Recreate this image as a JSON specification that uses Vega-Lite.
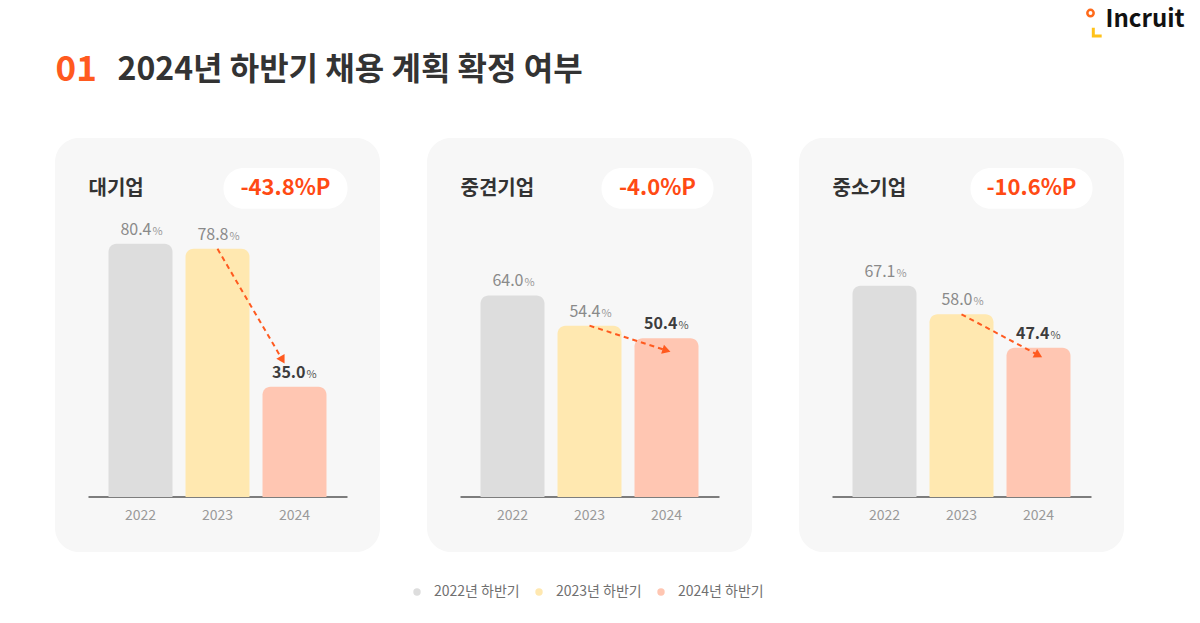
{
  "$schema": "https://vega.github.io/schema/vega-lite/v6.json",
  "autosize": {"type": "none"},
  "padding": {"left": 55, "top": 138, "right": 1145, "bottom": 485},
  "bounds": "flush",
  "spacing": 47,
  "background": "white",
  "config": {
    "font": "Noto Sans CJK KR",
    "view": {"fill": "#f7f7f7", "stroke": null, "cornerRadius": 24},
    "axisX": {"domain": false, "ticks": false, "grid": false, "labelFontSize": 14, "labelColor": "#9a9a9a", "labelPadding": 12, "offset": -56, "labelAngle": 0}
  },
  "resolve": {"scale": {"color": "independent"}, "legend": {"color": "independent"}},
  "datasets": {
    "bars": [
      {"group": "대기업", "year": "2022", "series": "2022년 하반기", "value": 80.4},
      {"group": "대기업", "year": "2023", "series": "2023년 하반기", "value": 78.8},
      {"group": "대기업", "year": "2024", "series": "2024년 하반기", "value": 35.0},
      {"group": "중견기업", "year": "2022", "series": "2022년 하반기", "value": 64.0},
      {"group": "중견기업", "year": "2023", "series": "2023년 하반기", "value": 54.4},
      {"group": "중견기업", "year": "2024", "series": "2024년 하반기", "value": 50.4},
      {"group": "중소기업", "year": "2022", "series": "2022년 하반기", "value": 67.1},
      {"group": "중소기업", "year": "2023", "series": "2023년 하반기", "value": 58.0},
      {"group": "중소기업", "year": "2024", "series": "2024년 하반기", "value": 47.4}
    ],
    "cards": [
      {"group": "대기업", "change": "-43.8%P", "from": "2023", "to": "2024", "start": 78.8, "end": 43.5},
      {"group": "중견기업", "change": "-4.0%P", "from": "2023", "to": "2024", "start": 54.4, "end": 46.5},
      {"group": "중소기업", "change": "-10.6%P", "from": "2023", "to": "2024", "start": 58.0, "end": 45.0}
    ],
    "header": [
      {"num": "01", "title": "2024년 하반기 채용 계획 확정 여부", "logo": "Incruit"}
    ]
  },
  "hconcat": [
    {
      "width": 325, "height": 414,
      "layer": [
        {"data": {"values": [{"base": 0}]},
         "mark": {"type": "rule", "color": "#555555", "strokeWidth": 1.5, "xOffset": -52, "x2Offset": 53},
         "encoding": {"x": {"datum": "2022"}, "x2": {"datum": "2024"}, "y": {"field": "base", "type": "quantitative", "axis": null}}},
        {"data": {"name": "bars"}, "transform": [{"filter": "datum.group === '대기업'"}],
         "mark": {"type": "bar", "cornerRadiusTopLeft": 8, "cornerRadiusTopRight": 8},
         "encoding": {
           "x": {"field": "year", "type": "nominal", "scale": {"domain": ["2022", "2023", "2024"], "paddingInner": 0.169, "paddingOuter": 0.695}, "axis": {"title": null}},
           "y": {"field": "value", "type": "quantitative", "scale": {"domain": [-17.5, 114], "nice": false, "zero": false}, "axis": null},
           "y2": {"datum": 0},
           "color": {"field": "series", "type": "nominal",
             "scale": {"domain": ["2022년 하반기", "2023년 하반기", "2024년 하반기"], "range": ["#dddddd", "#ffe8b0", "#ffc6b2"]},
             "legend": {"title": null, "orient": "none", "legendX": 355, "legendY": 447, "direction": "horizontal", "symbolType": "circle", "symbolSize": 55, "labelFontSize": 14, "labelColor": "#707070", "columnPadding": 12, "labelOffset": 10, "padding": 0, "symbolStrokeWidth": 0}}
         }},
        {"data": {"name": "bars"}, "transform": [{"filter": "datum.group === '대기업' && datum.year !== '2024'"}],
         "mark": {"type": "text", "align": "right", "baseline": "alphabetic", "dx": 11, "dy": -9, "fontSize": 16, "color": "#8a8a8a"},
         "encoding": {"x": {"field": "year", "type": "nominal"}, "y": {"field": "value", "type": "quantitative", "axis": null}, "text": {"field": "value", "format": ".1f"}}},
        {"data": {"name": "bars"}, "transform": [{"filter": "datum.group === '대기업' && datum.year === '2024'"}],
         "mark": {"type": "text", "align": "right", "baseline": "alphabetic", "dx": 11, "dy": -9, "fontSize": 16, "fontWeight": "bold", "color": "#3d3d3d"},
         "encoding": {"x": {"field": "year", "type": "nominal"}, "y": {"field": "value", "type": "quantitative", "axis": null}, "text": {"field": "value", "format": ".1f"}}},
        {"data": {"name": "bars"}, "transform": [{"filter": "datum.group === '대기업'"}],
         "mark": {"type": "text", "align": "left", "baseline": "alphabetic", "dx": 12, "dy": -9, "fontSize": 11, "text": "%"},
         "encoding": {"x": {"field": "year", "type": "nominal"}, "y": {"field": "value", "type": "quantitative", "axis": null},
           "color": {"condition": {"test": "datum.year === '2024'", "value": "#555555"}, "value": "#999999"}}},
        {"data": {"name": "cards"}, "transform": [{"filter": "datum.group === '대기업'"}],
         "mark": {"type": "rule", "color": "#ff5a1f", "strokeWidth": 2, "strokeDash": [5, 4], "x2Offset": -12},
         "encoding": {"x": {"field": "from", "type": "nominal"}, "x2": {"field": "to"}, "y": {"field": "start", "type": "quantitative", "axis": null}, "y2": {"field": "end"}}},
        {"data": {"name": "cards"}, "transform": [{"filter": "datum.group === '대기업'"}],
         "mark": {"type": "point", "shape": "triangle-up", "filled": true, "color": "#ff5a1f", "size": 90, "angle": 150, "opacity": 1, "xOffset": -12},
         "encoding": {"x": {"field": "to", "type": "nominal"}, "y": {"field": "end", "type": "quantitative", "axis": null}}},
        {"data": {"name": "cards"}, "transform": [{"filter": "datum.group === '대기업'"}],
         "mark": {"type": "bar", "width": 124, "xOffset": -9, "cornerRadius": 20, "color": "#ffffff"},
         "encoding": {"x": {"datum": "2024"}, "y": {"datum": 91.5, "axis": null}, "y2": {"datum": 104.5}}},
        {"data": {"name": "cards"}, "transform": [{"filter": "datum.group === '대기업'"}],
         "mark": {"type": "text", "align": "center", "baseline": "middle", "fontSize": 22, "fontWeight": "bold", "color": "#ff4a14", "xOffset": -9},
         "encoding": {"x": {"datum": "2024"}, "y": {"datum": 98, "axis": null}, "text": {"field": "change"}}},
        {"data": {"name": "cards"}, "transform": [{"filter": "datum.group === '대기업'"}],
         "mark": {"type": "text", "align": "left", "baseline": "middle", "fontSize": 20, "fontWeight": "bold", "color": "#333333", "xOffset": -52},
         "encoding": {"x": {"datum": "2022"}, "y": {"datum": 97.8, "axis": null}, "text": {"field": "group"}}},
        {"data": {"name": "header"},
         "mark": {"type": "text", "align": "left", "baseline": "middle", "fontSize": 35, "fontWeight": "bold", "color": "#ff5a1f", "xOffset": -85},
         "encoding": {"x": {"datum": "2022"}, "y": {"datum": 135.6, "axis": null}, "text": {"field": "num"}}},
        {"data": {"name": "header"},
         "mark": {"type": "text", "align": "left", "baseline": "middle", "fontSize": 32, "fontWeight": "bold", "color": "#333333", "xOffset": -23},
         "encoding": {"x": {"datum": "2022"}, "y": {"datum": 135.6, "axis": null}, "text": {"field": "title"}}}
      ]
    },
    {
      "width": 325, "height": 414,
      "layer": [
        {"data": {"values": [{"base": 0}]},
         "mark": {"type": "rule", "color": "#555555", "strokeWidth": 1.5, "xOffset": -52, "x2Offset": 53},
         "encoding": {"x": {"datum": "2022"}, "x2": {"datum": "2024"}, "y": {"field": "base", "type": "quantitative", "axis": null}}},
        {"data": {"name": "bars"}, "transform": [{"filter": "datum.group === '중견기업'"}],
         "mark": {"type": "bar", "cornerRadiusTopLeft": 8, "cornerRadiusTopRight": 8},
         "encoding": {
           "x": {"field": "year", "type": "nominal", "scale": {"domain": ["2022", "2023", "2024"], "paddingInner": 0.169, "paddingOuter": 0.695}, "axis": {"title": null}},
           "y": {"field": "value", "type": "quantitative", "scale": {"domain": [-17.5, 114], "nice": false, "zero": false}, "axis": null},
           "y2": {"datum": 0},
           "color": {"field": "series", "type": "nominal",
             "scale": {"domain": ["2022년 하반기", "2023년 하반기", "2024년 하반기"], "range": ["#dddddd", "#ffe8b0", "#ffc6b2"]},
             "legend": null}
         }},
        {"data": {"name": "bars"}, "transform": [{"filter": "datum.group === '중견기업' && datum.year !== '2024'"}],
         "mark": {"type": "text", "align": "right", "baseline": "alphabetic", "dx": 11, "dy": -9, "fontSize": 16, "color": "#8a8a8a"},
         "encoding": {"x": {"field": "year", "type": "nominal"}, "y": {"field": "value", "type": "quantitative", "axis": null}, "text": {"field": "value", "format": ".1f"}}},
        {"data": {"name": "bars"}, "transform": [{"filter": "datum.group === '중견기업' && datum.year === '2024'"}],
         "mark": {"type": "text", "align": "right", "baseline": "alphabetic", "dx": 11, "dy": -9, "fontSize": 16, "fontWeight": "bold", "color": "#3d3d3d"},
         "encoding": {"x": {"field": "year", "type": "nominal"}, "y": {"field": "value", "type": "quantitative", "axis": null}, "text": {"field": "value", "format": ".1f"}}},
        {"data": {"name": "bars"}, "transform": [{"filter": "datum.group === '중견기업'"}],
         "mark": {"type": "text", "align": "left", "baseline": "alphabetic", "dx": 12, "dy": -9, "fontSize": 11, "text": "%"},
         "encoding": {"x": {"field": "year", "type": "nominal"}, "y": {"field": "value", "type": "quantitative", "axis": null},
           "color": {"condition": {"test": "datum.year === '2024'", "value": "#555555"}, "value": "#999999"}}},
        {"data": {"name": "cards"}, "transform": [{"filter": "datum.group === '중견기업'"}],
         "mark": {"type": "rule", "color": "#ff5a1f", "strokeWidth": 2, "strokeDash": [5, 4]},
         "encoding": {"x": {"field": "from", "type": "nominal"}, "x2": {"field": "to"}, "y": {"field": "start", "type": "quantitative", "axis": null}, "y2": {"field": "end"}}},
        {"data": {"name": "cards"}, "transform": [{"filter": "datum.group === '중견기업'"}],
         "mark": {"type": "point", "shape": "triangle-up", "filled": true, "color": "#ff5a1f", "size": 90, "angle": 107, "opacity": 1},
         "encoding": {"x": {"field": "to", "type": "nominal"}, "y": {"field": "end", "type": "quantitative", "axis": null}}},
        {"data": {"name": "cards"}, "transform": [{"filter": "datum.group === '중견기업'"}],
         "mark": {"type": "bar", "width": 112, "xOffset": -9, "cornerRadius": 20, "color": "#ffffff"},
         "encoding": {"x": {"datum": "2024"}, "y": {"datum": 91.5, "axis": null}, "y2": {"datum": 104.5}}},
        {"data": {"name": "cards"}, "transform": [{"filter": "datum.group === '중견기업'"}],
         "mark": {"type": "text", "align": "center", "baseline": "middle", "fontSize": 22, "fontWeight": "bold", "color": "#ff4a14", "xOffset": -9},
         "encoding": {"x": {"datum": "2024"}, "y": {"datum": 98, "axis": null}, "text": {"field": "change"}}},
        {"data": {"name": "cards"}, "transform": [{"filter": "datum.group === '중견기업'"}],
         "mark": {"type": "text", "align": "left", "baseline": "middle", "fontSize": 20, "fontWeight": "bold", "color": "#333333", "xOffset": -52},
         "encoding": {"x": {"datum": "2022"}, "y": {"datum": 97.8, "axis": null}, "text": {"field": "group"}}}
      ]
    },
    {
      "width": 325, "height": 414,
      "layer": [
        {"data": {"values": [{"base": 0}]},
         "mark": {"type": "rule", "color": "#555555", "strokeWidth": 1.5, "xOffset": -52, "x2Offset": 53},
         "encoding": {"x": {"datum": "2022"}, "x2": {"datum": "2024"}, "y": {"field": "base", "type": "quantitative", "axis": null}}},
        {"data": {"name": "bars"}, "transform": [{"filter": "datum.group === '중소기업'"}],
         "mark": {"type": "bar", "cornerRadiusTopLeft": 8, "cornerRadiusTopRight": 8},
         "encoding": {
           "x": {"field": "year", "type": "nominal", "scale": {"domain": ["2022", "2023", "2024"], "paddingInner": 0.169, "paddingOuter": 0.695}, "axis": {"title": null}},
           "y": {"field": "value", "type": "quantitative", "scale": {"domain": [-17.5, 114], "nice": false, "zero": false}, "axis": null},
           "y2": {"datum": 0},
           "color": {"field": "series", "type": "nominal",
             "scale": {"domain": ["2022년 하반기", "2023년 하반기", "2024년 하반기"], "range": ["#dddddd", "#ffe8b0", "#ffc6b2"]},
             "legend": null}
         }},
        {"data": {"name": "bars"}, "transform": [{"filter": "datum.group === '중소기업' && datum.year !== '2024'"}],
         "mark": {"type": "text", "align": "right", "baseline": "alphabetic", "dx": 11, "dy": -9, "fontSize": 16, "color": "#8a8a8a"},
         "encoding": {"x": {"field": "year", "type": "nominal"}, "y": {"field": "value", "type": "quantitative", "axis": null}, "text": {"field": "value", "format": ".1f"}}},
        {"data": {"name": "bars"}, "transform": [{"filter": "datum.group === '중소기업' && datum.year === '2024'"}],
         "mark": {"type": "text", "align": "right", "baseline": "alphabetic", "dx": 11, "dy": -9, "fontSize": 16, "fontWeight": "bold", "color": "#3d3d3d"},
         "encoding": {"x": {"field": "year", "type": "nominal"}, "y": {"field": "value", "type": "quantitative", "axis": null}, "text": {"field": "value", "format": ".1f"}}},
        {"data": {"name": "bars"}, "transform": [{"filter": "datum.group === '중소기업'"}],
         "mark": {"type": "text", "align": "left", "baseline": "alphabetic", "dx": 12, "dy": -9, "fontSize": 11, "text": "%"},
         "encoding": {"x": {"field": "year", "type": "nominal"}, "y": {"field": "value", "type": "quantitative", "axis": null},
           "color": {"condition": {"test": "datum.year === '2024'", "value": "#555555"}, "value": "#999999"}}},
        {"data": {"name": "cards"}, "transform": [{"filter": "datum.group === '중소기업'"}],
         "mark": {"type": "rule", "color": "#ff5a1f", "strokeWidth": 2, "strokeDash": [5, 4]},
         "encoding": {"x": {"field": "from", "type": "nominal"}, "x2": {"field": "to"}, "y": {"field": "start", "type": "quantitative", "axis": null}, "y2": {"field": "end"}}},
        {"data": {"name": "cards"}, "transform": [{"filter": "datum.group === '중소기업'"}],
         "mark": {"type": "point", "shape": "triangle-up", "filled": true, "color": "#ff5a1f", "size": 90, "angle": 118, "opacity": 1},
         "encoding": {"x": {"field": "to", "type": "nominal"}, "y": {"field": "end", "type": "quantitative", "axis": null}}},
        {"data": {"name": "cards"}, "transform": [{"filter": "datum.group === '중소기업'"}],
         "mark": {"type": "bar", "width": 122, "xOffset": -7, "cornerRadius": 20, "color": "#ffffff"},
         "encoding": {"x": {"datum": "2024"}, "y": {"datum": 91.5, "axis": null}, "y2": {"datum": 104.5}}},
        {"data": {"name": "cards"}, "transform": [{"filter": "datum.group === '중소기업'"}],
         "mark": {"type": "text", "align": "center", "baseline": "middle", "fontSize": 22, "fontWeight": "bold", "color": "#ff4a14", "xOffset": -7},
         "encoding": {"x": {"datum": "2024"}, "y": {"datum": 98, "axis": null}, "text": {"field": "change"}}},
        {"data": {"name": "cards"}, "transform": [{"filter": "datum.group === '중소기업'"}],
         "mark": {"type": "text", "align": "left", "baseline": "middle", "fontSize": 20, "fontWeight": "bold", "color": "#333333", "xOffset": -52},
         "encoding": {"x": {"datum": "2022"}, "y": {"datum": 97.8, "axis": null}, "text": {"field": "group"}}},
        {"data": {"name": "header"},
         "mark": {"type": "text", "align": "left", "baseline": "middle", "fontSize": 24, "fontWeight": "bold", "color": "#111111", "xOffset": 67},
         "encoding": {"x": {"datum": "2024"}, "y": {"datum": 151.5, "axis": null}, "text": {"field": "logo"}}},
        {"data": {"name": "header"},
         "mark": {"type": "point", "shape": "circle", "filled": false, "stroke": "#ff6a1a", "strokeWidth": 2.5, "size": 40, "opacity": 1, "xOffset": 52},
         "encoding": {"x": {"datum": "2024"}, "y": {"datum": 153.7, "axis": null}}},
        {"data": {"name": "header"},
         "mark": {"type": "point", "shape": "M -1 -1 L -1 1 L 1 1", "filled": false, "stroke": "#ffc21a", "strokeWidth": 3, "size": 70, "opacity": 1, "xOffset": 59},
         "encoding": {"x": {"datum": "2024"}, "y": {"datum": 147.7, "axis": null}}}
      ]
    }
  ]
}
